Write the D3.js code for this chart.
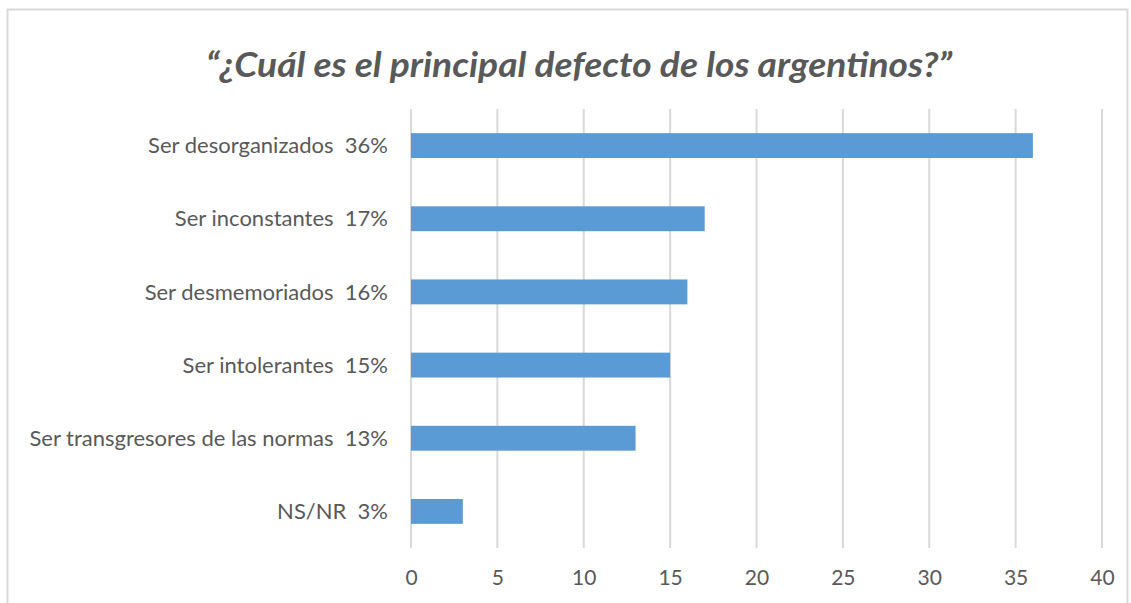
<!doctype html>
<html>
<head>
  <meta charset="utf-8">
  <script src="https://cdnjs.cloudflare.com/ajax/libs/d3/7.8.5/d3.min.js"></script>
  <style>
    body { margin: 0; background: white; }
    text { font-family: 'Lato', 'Open Sans', sans-serif; fill: #595959; white-space: pre; }
  </style>
</head>
<body>
  <script>
    const categories = ['Ser desorganizados', 'Ser inconstantes', 'Ser desmemoriados',
      'Ser intolerantes', 'Ser transgresores de las normas', 'NS/NR'];
    const values = [36, 17, 16, 15, 13, 3];
    const tickValues = [0, 5, 10, 15, 20, 25, 30, 35, 40];
    const title = '\u201c\u00bfCu\u00e1l es el principal defecto de los argentinos?\u201d';

    const width = 1131, height = 603;
    const margin = {left: 411, right: 29, top: 109, bottom: 55};

    const svg = d3.select('body').append('svg')
      .attr('width', width)
      .attr('height', height);

    // chart frame
    svg.append('rect')
      .attr('x', 7.5).attr('y', 9.5)
      .attr('width', 1120).attr('height', 620)
      .attr('fill', 'white')
      .attr('stroke', '#d9d9d9')
      .attr('stroke-width', 2);

    svg.append('text')
      .attr('x', 579).attr('y', 77)
      .attr('text-anchor', 'middle')
      .attr('textLength', 746)
      .attr('lengthAdjust', 'spacingAndGlyphs')
      .style('font-size', '34px')
      .style('font-weight', 'bold')
      .style('font-style', 'italic')
      .text(title);

    const x = d3.scaleLinear().domain([0, 40]).range([margin.left, width - margin.right]);
    const y = d3.scaleBand().domain(categories)
      .range([margin.top, height - margin.bottom])
      .paddingInner(0.66).paddingOuter(0.33);

    // gridlines
    svg.append('g').selectAll('line').data(tickValues).join('line')
      .attr('x1', d => x(d)).attr('x2', d => x(d))
      .attr('y1', margin.top).attr('y2', height - margin.bottom)
      .attr('stroke', '#d9d9d9')
      .attr('stroke-width', 2);

    // x axis labels
    const xAxis = svg.append('g')
      .attr('transform', `translate(0,${height - margin.bottom})`)
      .call(d3.axisBottom(x).tickValues(tickValues).tickSize(0).tickPadding(22));
    xAxis.select('.domain').remove();
    xAxis.selectAll('text')
      .style('font-size', '21px')
      .style('font-family', "'Lato', 'Open Sans', sans-serif")
      .attr('fill', '#595959');

    svg.append('g').selectAll('rect').data(values).join('rect')
      .attr('x', x(0))
      .attr('y', (d, i) => y(categories[i]))
      .attr('width', d => x(d) - x(0))
      .attr('height', y.bandwidth())
      .attr('fill', '#5b9bd5');

    svg.append('g').selectAll('text').data(values).join('text')
      .attr('x', 388)
      .attr('y', (d, i) => y(categories[i]) + y.bandwidth() / 2)
      .attr('dy', '0.35em')
      .attr('text-anchor', 'end')
      .style('font-size', '22px')
      .text((d, i) => `${categories[i]}  ${d}%`);
  </script>
</body>
</html>
